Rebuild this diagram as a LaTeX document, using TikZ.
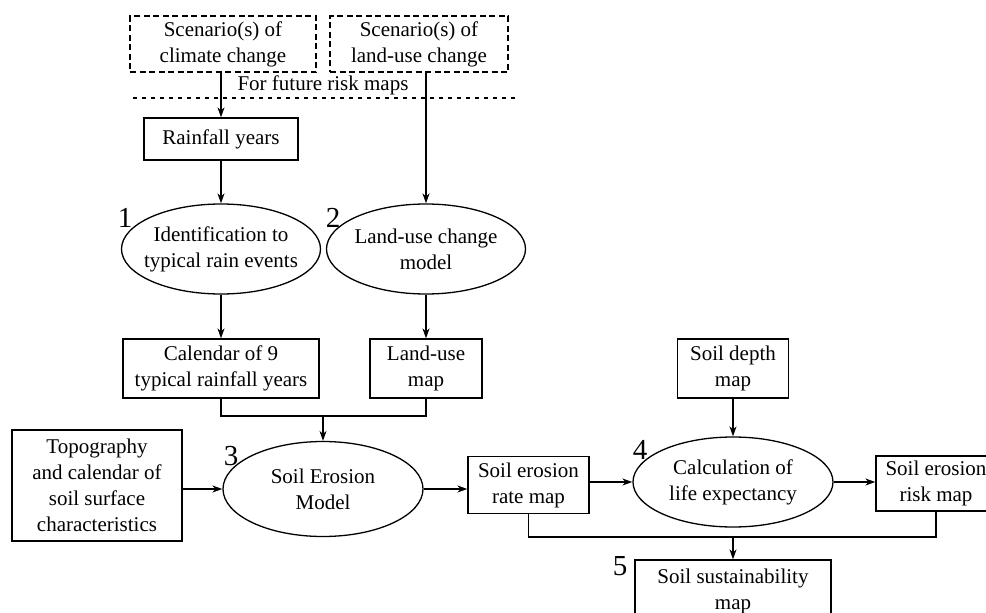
\documentclass[tikz,border=0pt]{standalone}
\usepackage{fontspec}
\setmainfont{Liberation Serif}
\usetikzlibrary{shapes.geometric,arrows.meta}
\tikzset{
  base/.style={draw, line width=1.3pt, inner sep=0pt, align=center,
    font=\fontsize{21}{26}\selectfont},
  box/.style={base, rectangle},
  dbox/.style={base, rectangle, dash pattern=on 6pt off 3.5pt},
  ell/.style={base, ellipse, inner xsep=-20pt, inner ysep=-10pt},
  num/.style={font=\fontsize{29}{30}\selectfont, inner sep=0pt},
  plain/.style={font=\fontsize{21}{26}\selectfont, inner sep=0pt},
  link/.style={line width=1.3pt},
  arr/.style={line width=1.3pt, -{Stealth[length=10pt,width=7pt]}}
}
\begin{document}
\begin{tikzpicture}[x=1pt,y=-1pt]
\clip (0,0) rectangle (986,613);
\fill[white] (0,0) rectangle (986,613);

% top scenario boxes
\node[dbox, minimum width=186pt, minimum height=56pt] (clim) at (223,44) {Scenario(s) of\\climate change};
\node[dbox, minimum width=178pt, minimum height=56pt] (lsc) at (419,44) {Scenario(s) of\\land-use change};
\node[plain] (future) at (323,85) {For future risk maps};
\coordinate (dl) at (133,98);
\coordinate (dr) at (516,98);
\draw[line width=1.3pt, dash pattern=on 4pt off 5pt] (dl) -- (dr);

% rainfall
\node[box, minimum width=154pt, minimum height=42pt] (rain) at (221,139) {Rainfall years};

% ellipses 1 and 2
\node[ell, minimum width=199pt, minimum height=90pt] (e1) at (221,249) {Identification to\\typical rain events};
\node[ell, minimum width=199pt, minimum height=90pt] (e2) at (426,249) {Land-use change\\model};
\node[num] (n1) at (125,218) {1};
\node[num] (n2) at (333,218) {2};

% calendar & land-use map
\node[box, minimum width=196pt, minimum height=59pt] (cal) at (221,368.5) {Calendar of 9\\typical rainfall years};
\node[box, minimum width=112pt, minimum height=59pt] (lum) at (426,368.5) {Land-use\\map};

% soil depth
\node[box, minimum width=111pt, minimum height=59pt] (depth) at (733,368.5) {Soil depth\\map};

% topography
\node[box, minimum width=170pt, minimum height=111pt] (topo) at (97,485.5) {Topography\\and calendar of\\soil surface\\characteristics};

% soil erosion model
\node[ell, minimum width=200pt, minimum height=95pt] (e3) at (323,489) {Soil Erosion\\Model};
\node[num] (n3) at (231,456) {3};

% rate map
\node[box, minimum width=121pt, minimum height=57pt] (rate) at (528.5,485) {Soil erosion\\rate map};

% life expectancy
\node[ell, minimum width=200pt, minimum height=90pt] (e4) at (733,482) {Calculation of\\life expectancy};
\node[num] (n4) at (640,450) {4};

% risk map
\node[box, minimum width=120pt, minimum height=55pt] (risk) at (936,483.5) {Soil erosion\\risk map};

% sustainability
\node[box, minimum width=196pt, minimum height=62pt] (sust) at (733,591) {Soil sustainability\\map};
\node[num] (n5) at (620,566) {5};

% connectors
\draw[arr] (rain.north |- clim.south) -- (rain.north);
\draw[arr] (e2.north |- lsc.south) -- (e2.north);
\draw[arr] (rain.south) -- (e1.north);
\draw[arr] (e1.south) -- (cal.north);
\draw[arr] (e2.south) -- (lum.north);

\coordinate (m1) at (323,416);
\draw[link] (cal.south) |- (m1) -| (lum.south);
\draw[arr] (m1) -- (e3.north);

\draw[arr] (topo.east |- e3.west) -- (e3.west);
\draw[arr] (e3.east) -- (rate.west |- e3.east);
\draw[arr] (rate.east |- e4.west) -- (e4.west);
\draw[arr] (e4.east) -- (risk.west |- e4.east);
\draw[arr] (depth.south) -- (e4.north);

\coordinate (m2) at (733,537);
\draw[link] (rate.south) |- (m2) -| (risk.south);
\draw[arr] (m2) -- (sust.north);
\end{tikzpicture}
\end{document}
